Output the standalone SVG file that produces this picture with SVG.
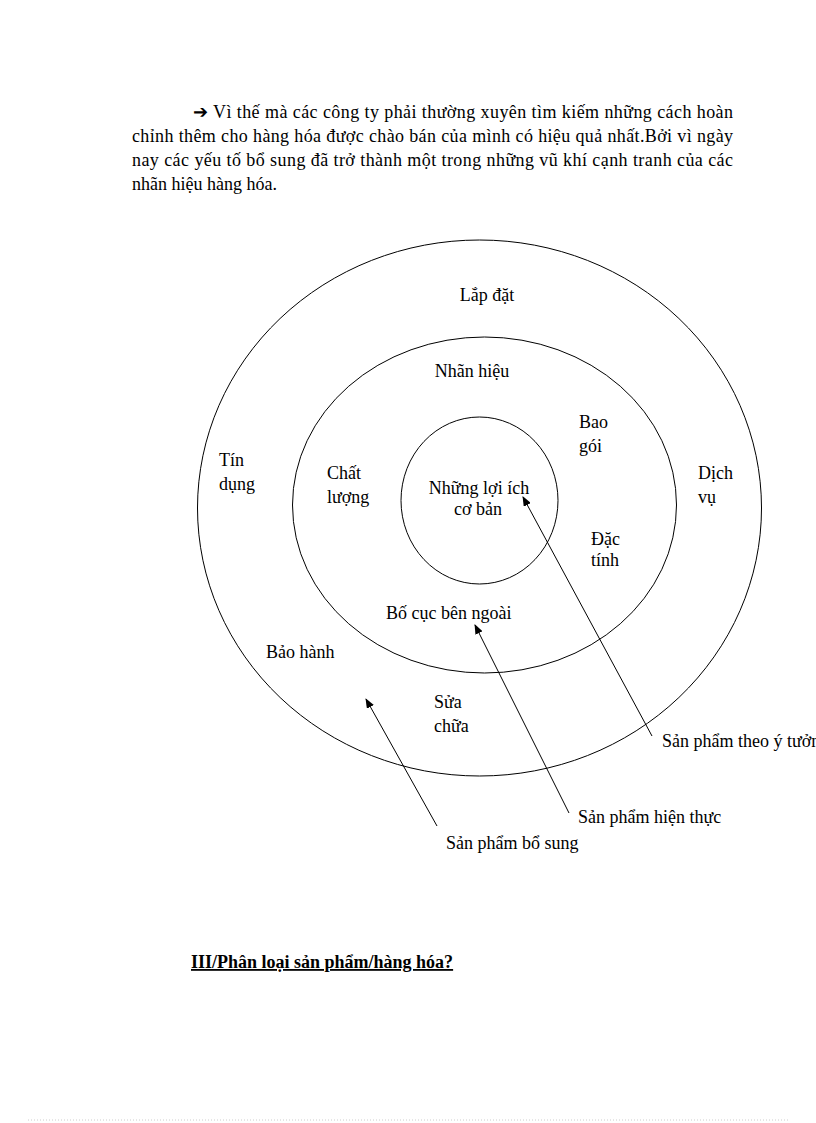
<svg xmlns="http://www.w3.org/2000/svg" width="816" height="1123" viewBox="0 0 816 1123">
<style>
text{font-family:"Liberation Serif","Times New Roman",serif;font-size:18px;fill:#000}
.ring{fill:none;stroke:#000;stroke-width:1}
.c{text-anchor:middle}
.arr{stroke:#000;stroke-width:1;fill:none;marker-end:url(#ah)}
</style>
<defs>
<marker id="ah" markerWidth="10" markerHeight="8" refX="9" refY="4" orient="auto" markerUnits="userSpaceOnUse">
<path d="M0,0 L10,4 L0,8 Z" fill="#000"/>
</marker>
</defs>
<rect width="816" height="1123" fill="#fff"/>
<g id="paragraph">
<text x="193" y="118">➔</text>
<text x="213" y="118" textLength="520" lengthAdjust="spacing">Vì thế mà các công ty phải thường xuyên tìm kiếm những cách hoàn</text>
<text x="132" y="142" textLength="601" lengthAdjust="spacing">chỉnh thêm cho hàng hóa được chào bán của mình có hiệu quả nhất.Bởi vì ngày</text>
<text x="132" y="166" textLength="601" lengthAdjust="spacing">nay các yếu tố bổ sung đã trở thành một trong những vũ khí cạnh tranh của các</text>
<text x="132" y="190">nhãn hiệu hàng hóa.</text>
</g>
<g id="outer"><ellipse class="ring" cx="479.5" cy="508" rx="282" ry="268"/></g>
<g id="middle"><ellipse class="ring" cx="484.5" cy="505" rx="192" ry="168"/></g>
<g id="inner"><ellipse class="ring" cx="479.5" cy="500.5" rx="78.5" ry="83.5"/></g>
<g id="labels">
<text class="c" x="487" y="301">Lắp đặt</text>
<text class="c" x="472" y="377">Nhãn hiệu</text>
<text x="579" y="428">Bao</text><text x="579" y="452">gói</text>
<text x="219" y="466">Tín</text><text x="219" y="490">dụng</text>
<text x="327" y="479">Chất</text><text x="327" y="503">lượng</text>
<text class="c" x="479" y="494">Những lợi ích</text>
<text class="c" x="478" y="515">cơ bản</text>
<text x="698" y="479">Dịch</text><text x="698" y="503">vụ</text>
<text x="591" y="545">Đặc</text><text x="591" y="566">tính</text>
<text x="386" y="619">Bố cục bên ngoài</text>
<text x="266" y="658">Bảo hành</text>
<text x="434" y="708">Sửa</text><text x="434" y="732">chữa</text>
<text x="662" y="747">Sản phẩm theo ý tưởng</text>
<text x="578" y="823">Sản phẩm hiện thực</text>
<text x="446" y="849">Sản phẩm bổ sung</text>
</g>
<g id="connectors">
<line class="arr" x1="652" y1="736" x2="523" y2="497"/>
<line class="arr" x1="569" y1="813" x2="475" y2="625"/>
<line class="arr" x1="437" y1="826" x2="366" y2="699"/>
</g>
<g id="heading">
<text x="191" y="968" font-weight="bold" text-decoration="underline">III/Phân loại sản phẩm/hàng hóa?</text>
</g>
<line x1="28" y1="1120" x2="790" y2="1120" stroke="#ccc" stroke-width="1" stroke-dasharray="1,2"/>
</svg>
